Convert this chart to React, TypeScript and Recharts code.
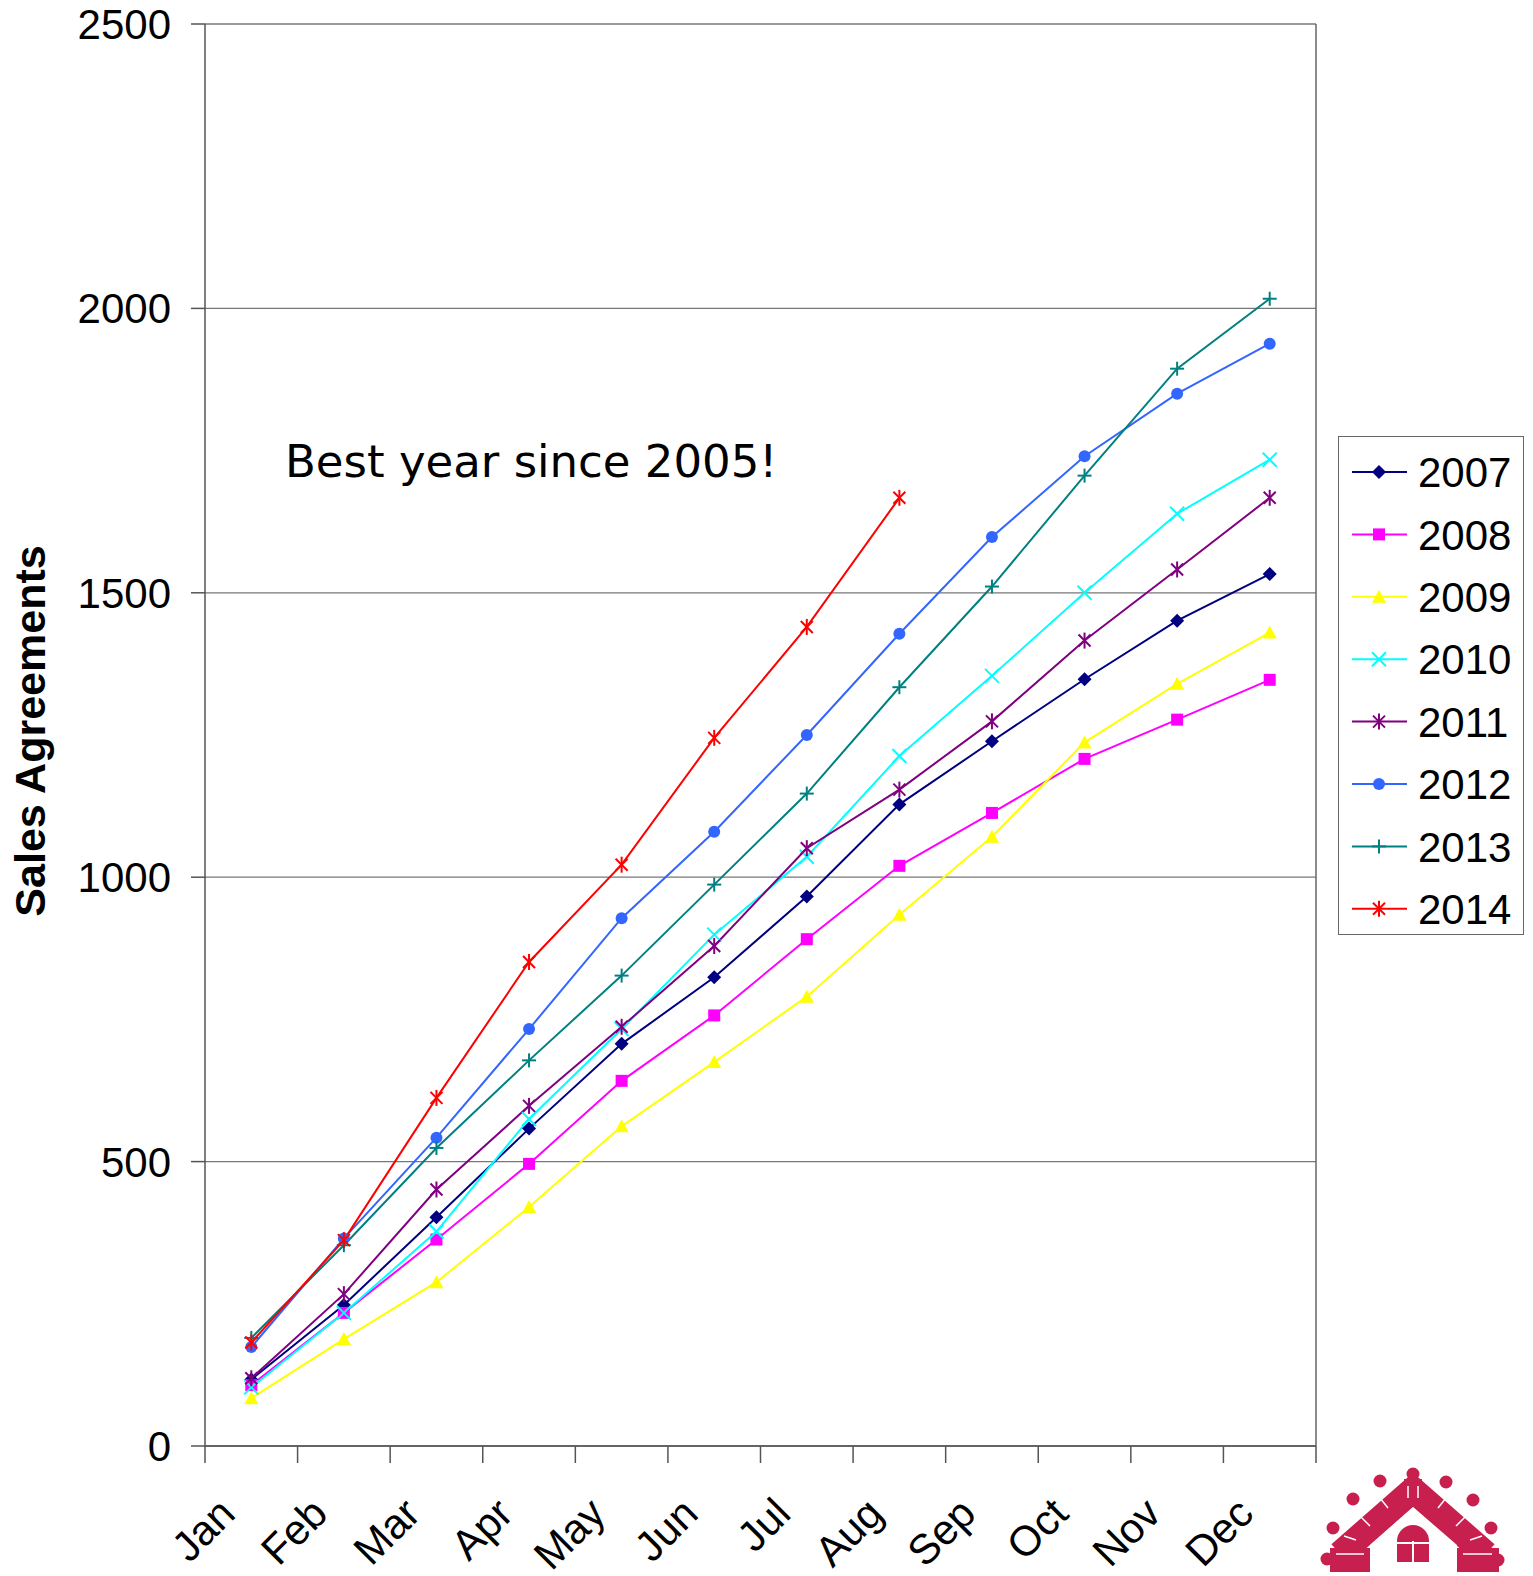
import React from 'react';
import { LineChart, Line, XAxis, YAxis, CartesianGrid, Legend } from 'recharts';

const months = ['Jan', 'Feb', 'Mar', 'Apr', 'May', 'Jun', 'Jul', 'Aug', 'Sep', 'Oct', 'Nov', 'Dec'];
const yTicks = [0, 500, 1000, 1500, 2000, 2500];

const s2007 = [117, 248, 402, 558, 707, 824, 966, 1128, 1239, 1348, 1451, 1533];
const s2008 = [107, 234, 363, 496, 642, 757, 891, 1020, 1113, 1208, 1277, 1347];
const s2009 = [84, 188, 288, 420, 562, 675, 790, 934, 1071, 1237, 1340, 1430];
const s2010 = [103, 234, 377, 575, 733, 899, 1036, 1213, 1354, 1500, 1639, 1734];
const s2011 = [119, 267, 451, 598, 737, 879, 1051, 1154, 1274, 1416, 1541, 1667];
const s2012 = [174, 365, 542, 733, 928, 1080, 1250, 1428, 1598, 1740, 1850, 1938];
const s2013 = [190, 353, 524, 678, 827, 987, 1147, 1334, 1511, 1706, 1894, 2017];
const s2014 = [182, 362, 612, 851, 1022, 1245, 1440, 1667];

const years = ['2007', '2008', '2009', '2010', '2011', '2012', '2013', '2014'];
const seriesValues = [s2007, s2008, s2009, s2010, s2011, s2012, s2013, s2014];
const colors = ['#000080', '#FF00FF', '#FFFF00', '#00FFFF', '#800080', '#3366FF', '#008080', '#FF0000'];
const shapes = ['diamond', 'square', 'triangle', 'x', 'star', 'circle', 'plus', 'star'];

const boundaryTicks = months.map((_, i) => i).concat([months.length]);
const centerTicks = months.map((_, i) => i + 0.5);

const data = months.map((m, i) => {
  const row: any = { month: m, x: i + 0.5 };
  years.forEach((y, k) => {
    const v = seriesValues[k][i];
    if (v !== undefined) row[y] = v;
  });
  return row;
});

const FONT = '"Liberation Sans", Arial, sans-serif';
const LOGO = '#C8204E';

function Marker({ shape, cx, cy, color }: { shape: string; cx: number; cy: number; color: string }) {
  const h = 7;
  switch (shape) {
    case 'diamond':
      return <polygon points={`${cx},${cy - h} ${cx + h},${cy} ${cx},${cy + h} ${cx - h},${cy}`} fill={color} />;
    case 'square':
      return <rect x={cx - 6} y={cy - 6} width={12} height={12} fill={color} />;
    case 'triangle':
      return <polygon points={`${cx},${cy - 7} ${cx + 7},${cy + 6} ${cx - 7},${cy + 6}`} fill={color} />;
    case 'circle':
      return <circle cx={cx} cy={cy} r={6} fill={color} />;
    case 'x':
      return (
        <g stroke={color} strokeWidth={2}>
          <line x1={cx - h} y1={cy - h} x2={cx + h} y2={cy + h} />
          <line x1={cx - h} y1={cy + h} x2={cx + h} y2={cy - h} />
        </g>
      );
    case 'plus':
      return (
        <g stroke={color} strokeWidth={2}>
          <line x1={cx - h} y1={cy} x2={cx + h} y2={cy} />
          <line x1={cx} y1={cy - h} x2={cx} y2={cy + h} />
        </g>
      );
    case 'star':
    default:
      return (
        <g stroke={color} strokeWidth={2}>
          <line x1={cx - 6} y1={cy - 6} x2={cx + 6} y2={cy + 6} />
          <line x1={cx - 6} y1={cy + 6} x2={cx + 6} y2={cy - 6} />
          <line x1={cx} y1={cy - 8} x2={cx} y2={cy + 8} />
        </g>
      );
  }
}

const EmptyTick = () => <g />;

const MonthTick = (props: any) => {
  const { x, y, payload } = props;
  const idx = Math.floor(payload.value);
  return (
    <text
      x={0}
      y={0}
      transform={`translate(${x - 14},${y + 69}) rotate(-45)`}
      textAnchor="end"
      fontSize={42}
      fontFamily={FONT}
      fill="#000"
    >
      {months[idx]}
    </text>
  );
};

const LegendBox = () => (
  <div style={{ width: 186, height: 499, border: '1.5px solid #666', boxSizing: 'border-box', background: '#fff' }}>
    <svg width={184} height={497} style={{ display: 'block' }}>
      {years.map((y, i) => {
        const cy = 35 + i * 62.4;
        return (
          <g key={y}>
            <line x1={13} y1={cy} x2={68} y2={cy} stroke={colors[i]} strokeWidth={2} />
            <Marker shape={shapes[i]} cx={40} cy={cy} color={colors[i]} />
            <text x={79} y={cy} dy="0.36em" fontSize={42} fontFamily={FONT} fill="#000">
              {y}
            </text>
          </g>
        );
      })}
    </svg>
  </div>
);

const YLabel = (props: any) => {
  const vb = props.viewBox || { x: 0, y: 0, width: 0, height: 0 };
  const cx = 30;
  const cy = vb.y + vb.height / 2 - 4;
  return (
    <text
      x={cx}
      y={cy}
      transform={`rotate(-90, ${cx}, ${cy})`}
      textAnchor="middle"
      dominantBaseline="central"
      fontSize={43}
      fontWeight="bold"
      fontFamily={FONT}
      fill="#000"
    >
      Sales Agreements
    </text>
  );
};

const heads = [
  [113, 24], [80, 31], [146, 32], [53, 49], [173, 50], [33, 78], [191, 78], [27, 109], [198, 110],
];

const Logo = () => (
  <g transform="translate(1300,1450)">
    <path d="M 40 104 L 113 40 L 186 104" stroke={LOGO} strokeWidth={26} fill="none" strokeLinejoin="miter" />
    <rect x={104} y={29} width={18} height={20} fill={LOGO} />
    <rect x={30} y={98} width={42} height={24} fill={LOGO} />
    <rect x={157} y={98} width={42} height={24} fill={LOGO} />
    <polygon points="113,57 70,95 70,126 157,126 157,95" fill="#fff" />
    {heads.map(([x, y], i) => (
      <circle key={i} cx={x} cy={y} r={6.5} fill={LOGO} />
    ))}
    <g stroke="#fff" strokeWidth={1.5}>
      <line x1={60} y1={66} x2={70} y2={76} />
      <line x1={80} y1={48} x2={88} y2={58} />
      <line x1={146} y1={48} x2={138} y2={58} />
      <line x1={166} y1={66} x2={156} y2={76} />
      <line x1={44} y1={86} x2={56} y2={90} />
      <line x1={182} y1={86} x2={170} y2={90} />
      <line x1={36} y1={104} x2={64} y2={104} />
      <line x1={163} y1={104} x2={192} y2={104} />
      <line x1={108} y1={36} x2={108} y2={48} />
      <line x1={118} y1={36} x2={118} y2={48} />
    </g>
    <path d="M 97 112 L 97 91 A 16 16 0 0 1 129 91 L 129 112 Z" fill={LOGO} />
    <g stroke="#fff" strokeWidth={2}>
      <line x1={113} y1={91} x2={113} y2={112} />
      <line x1={97} y1={93} x2={129} y2={93} />
    </g>
  </g>
);

export default function App() {
  return (
    <div style={{ position: 'absolute', left: 0, top: 0, width: 1533, height: 1576, background: '#fff' }}>
      <LineChart width={1533} height={1576} data={data} margin={{ top: 24, right: 216, bottom: 0, left: 0 }}>
        <CartesianGrid xAxisId="grid" yAxisId="left" horizontal={true} vertical={false} stroke="#777" strokeWidth={1.3} />
        <XAxis
          xAxisId="grid"
          dataKey="x"
          type="number"
          domain={[0, 12]}
          allowDataOverflow
          ticks={boundaryTicks}
          interval={0}
          tick={<EmptyTick />}
          tickSize={17}
          height={1}
          axisLine={{ stroke: '#555', strokeWidth: 1.5 }}
          tickLine={{ stroke: '#555', strokeWidth: 1.5 }}
        />
        <XAxis
          xAxisId="labels"
          dataKey="x"
          type="number"
          domain={[0, 12]}
          allowDataOverflow
          ticks={centerTicks}
          interval={0}
          tick={<MonthTick />}
          tickSize={0}
          tickMargin={0}
          height={129}
          axisLine={false}
          tickLine={false}
        />
        <YAxis
          yAxisId="left"
          width={205}
          domain={[0, 2500]}
          ticks={yTicks}
          interval={0}
          tickSize={14}
          tickMargin={20}
          tick={{ fontSize: 42, fill: '#000', fontFamily: FONT }}
          axisLine={{ stroke: '#555', strokeWidth: 1.5 }}
          tickLine={{ stroke: '#555', strokeWidth: 1.5 }}
          label={{ content: <YLabel /> }}
        />
        <YAxis
          yAxisId="right"
          orientation="right"
          width={1}
          domain={[0, 2500]}
          tick={false}
          tickLine={false}
          axisLine={{ stroke: '#666', strokeWidth: 1.5 }}
        />
        {years.map((y, k) => (
          <Line
            key={y}
            xAxisId="grid"
            yAxisId="left"
            dataKey={y}
            type="linear"
            stroke={colors[k]}
            strokeWidth={2}
            isAnimationActive={false}
            connectNulls={false}
            dot={(p: any) =>
              p.cy == null || p.value == null ? (
                <g key={`${y}-${p.index}`} />
              ) : (
                <g key={`${y}-${p.index}`}>
                  <Marker shape={shapes[k]} cx={p.cx} cy={p.cy} color={colors[k]} />
                </g>
              )
            }
            activeDot={false}
          />
        ))}
        <Legend
          layout="horizontal"
          verticalAlign="middle"
          align="center"
          content={<LegendBox />}
          wrapperStyle={{ position: 'absolute', left: 1338, top: 436, width: 186, height: 499 }}
        />
      </LineChart>
      <svg width={1533} height={1576} style={{ position: 'absolute', left: 0, top: 0, pointerEvents: 'none' }}>
        <text x={285} y={477} fontSize={45} fontFamily='"DejaVu Sans", sans-serif' fill="#000">
          Best year since 2005!
        </text>
        <Logo />
      </svg>
    </div>
  );
}
